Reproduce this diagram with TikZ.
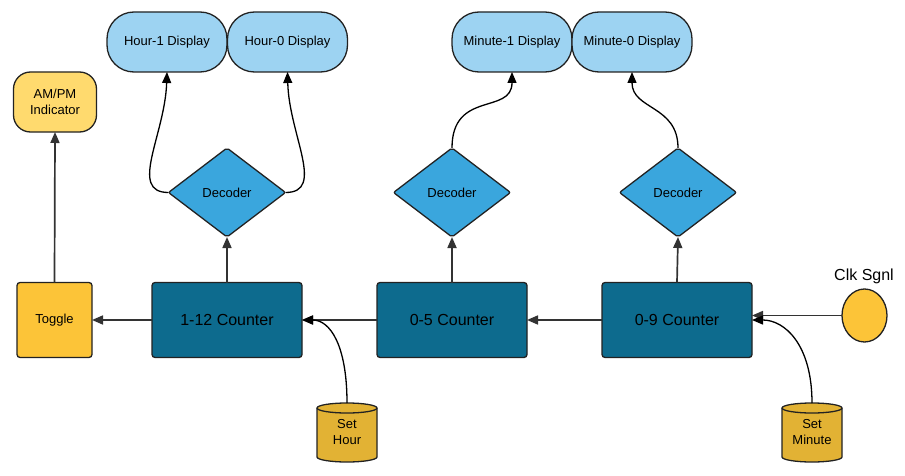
\documentclass[tikz,border=0pt]{standalone}
\usepackage{fontspec}
\setmainfont{Liberation Sans}
\usetikzlibrary{shapes.geometric,arrows.meta,calc,backgrounds}
\definecolor{dispfill}{HTML}{9DD3F2}
\definecolor{decfill}{HTML}{3AA6DD}
\definecolor{cntfill}{HTML}{0D6B8E}
\definecolor{togfill}{HTML}{FCC438}
\definecolor{amfill}{HTML}{FFDA6E}
\definecolor{cylfill}{HTML}{E2B234}
\definecolor{edge}{HTML}{222222}
\definecolor{wire}{HTML}{333333}
\tikzset{
  base/.style={draw=edge, line width=1.3pt, inner sep=0pt, outer sep=0pt, align=center, text=black},
  disp/.style={base, fill=dispfill, rounded corners=27pt, minimum width=120pt, minimum height=60pt, font=\fontsize{13}{15.6}\selectfont},
  dec/.style={base, diamond, fill=decfill, rounded corners=2pt, minimum width=117pt, minimum height=89pt, font=\fontsize{13}{15.6}\selectfont},
  cnt/.style={base, fill=cntfill, rounded corners=3pt, minimum width=150pt, minimum height=75pt, font=\fontsize{16}{19}\selectfont},
  tog/.style={base, fill=togfill, rounded corners=3pt, minimum width=75pt, minimum height=75pt, font=\fontsize{13}{15.6}\selectfont},
  ampm/.style={base, fill=amfill, rounded corners=17pt, minimum width=83pt, minimum height=60pt, font=\fontsize{13}{16}\selectfont},
  cylnode/.style={inner sep=0pt, outer sep=0pt, minimum width=60pt, minimum height=59pt, align=center, font=\fontsize{13}{16}\selectfont},
  clkstyle/.style={base, ellipse, fill=togfill, minimum width=45pt, minimum height=53pt},
  straight/.style={draw=wire, line width=1.7pt, -{Triangle[length=11pt,width=9pt]}},
  curvy/.style={draw=black, line width=1.3pt, -{Triangle[length=11pt,width=9pt]}},
}
\begin{document}
\begin{tikzpicture}[x=1pt,y=1pt]
\useasboundingbox (0,0) rectangle (905,475);
% displays
\node[disp] (h1) at (167,433) {Hour-1 Display};
\node[disp] (h0) at (287.5,433) {Hour-0 Display};
\node[disp] (m1) at (512,433) {Minute-1 Display};
\node[disp] (m0) at (632,433) {Minute-0 Display};
% am/pm
\node[ampm] (ampm) at (55,373) {AM/PM\\Indicator};
% decoders
\node[dec] (d1) at (227,282.5) {Decoder};
\node[dec] (d2) at (452,282.5) {Decoder};
\node[dec] (d3) at (678,282.5) {Decoder};
% counters
\node[cnt] (c112) at (227,155) {1-12 Counter};
\node[cnt] (c05) at (452,155) {0-5 Counter};
\node[cnt] (c09) at (677,155) {0-9 Counter};
\node[tog] (tog) at (54.5,155) {Toggle};
% clock
\node[clkstyle] (clk) at (864.5,159.5) {};
\node[font=\fontsize{16}{19}\selectfont, inner sep=0pt] (clklbl) at (864,199) {Clk Sgnl};
% cylinders
\node[cylnode] (sh) at (347,42.5) {Set\\Hour};
\node[cylnode] (sm) at (812,42.5) {Set\\Minute};
\begin{scope}[on background layer]
\foreach \n in {sh,sm}{
  \filldraw[draw=edge, line width=1.3pt, fill=cylfill]
    ([yshift=-5pt]\n.north west) -- ([yshift=5pt]\n.south west)
    arc[start angle=180,end angle=360,x radius=30pt,y radius=5pt]
    -- ([yshift=-5pt]\n.north east)
    arc[start angle=0,end angle=180,x radius=30pt,y radius=5pt] -- cycle;
  \draw[draw=edge, line width=1.3pt]
    ([yshift=-5pt]\n.north west)
    arc[start angle=180,end angle=360,x radius=30pt,y radius=5pt];
}
\end{scope}
% straight connectors
\draw[straight] (tog.north) -- (ampm.south);
\draw[straight] (c112.west) -- (tog.east);
\draw[straight] (c05.west) -- (c112.east);
\draw[straight] (c09.west) -- (c05.east);
\draw[straight] (clk.west) -- (clk.west -| c09.east);
\draw[straight] (c112.north) -- (d1.south);
\draw[straight] (c05.north) -- (d2.south);
\draw[straight] (c09.north) -- (d3.south);
% curved connectors
\draw[curvy] (d1.west) .. controls (128,282.5) and (165,340) .. (h1.south);
\draw[curvy] (d1.east) .. controls (326,282.5) and (289,340) .. (h0.south);
\draw[curvy] (d2.north) .. controls (452,385) and (512,360) .. (m1.south);
\draw[curvy] (d3.north) .. controls (678,370) and (632,365) .. (m0.south);
\draw[curvy] (sh.north) .. controls (347,130) and (330,155) .. (c112.east);
\draw[curvy] (sm.north) .. controls (812,130) and (785,155) .. (c09.east);
\end{tikzpicture}
\end{document}
